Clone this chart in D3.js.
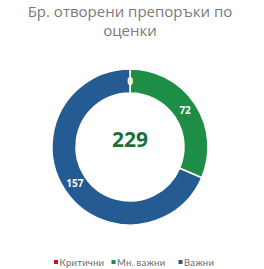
<!DOCTYPE html>
<html>
<head>
<meta charset="utf-8">
<script src="https://cdn.jsdelivr.net/npm/d3@7"></script>
<style>
  body { margin: 0; background: #fff; }
  svg { display: block; font-family: "Open Sans", "DejaVu Sans", sans-serif; }
</style>
</head>
<body>
<div class="chart"></div>
<script>
// data
const categories = ["Критични", "Мн. важни", "Важни"];
const values = [0, 72, 157];
const colors = ["#c0161c", "#1e8e46", "#245b93"];
const titleLines = ["Бр. отворени препоръки по", "оценки"];

const SIZE = {X: 264, Y: 269};
const CENTER = {X: 130, Y: 147};
const R = {OUTER: 78, INNER: 54};

const svg = d3.select(".chart").append("svg")
    .attr("width", SIZE.X)
    .attr("height", SIZE.Y);

// title
svg.selectAll(".title")
    .data(titleLines)
    .enter().append("text")
    .attr("class", "title")
    .attr("x", 130)
    .attr("y", (d, i) => 17 + i * 19)
    .attr("text-anchor", "middle")
    .attr("fill", "#7a7a7a")
    .attr("font-size", 15)
    .text(d => d);

// donut
const pie = d3.pie().sort(null).value(d => d.value);
const arc = d3.arc().innerRadius(R.INNER).outerRadius(R.OUTER);
const labelArc = d3.arc().innerRadius(66).outerRadius(66);

const data = categories.map((c, i) => ({name: c, value: values[i], color: colors[i]}));
const arcs = pie(data);

const graph = svg.append("g")
    .attr("transform", `translate(${CENTER.X}, ${CENTER.Y})`);

graph.selectAll(".slice")
    .data(arcs)
    .enter().append("path")
    .attr("class", "slice")
    .attr("d", arc)
    .attr("fill", d => d.data.color)
    .attr("stroke", "#fff")
    .attr("stroke-width", 1.5);

graph.selectAll(".lbl")
    .data(arcs)
    .enter().append("text")
    .attr("class", "lbl")
    .attr("transform", d => `translate(${labelArc.centroid(d)})`)
    .attr("text-anchor", "middle")
    .attr("dy", "0.35em")
    .attr("fill", "#fff")
    .attr("font-weight", "bold")
    .attr("font-size", 10)
    .text(d => d.data.value);

// total in the middle
graph.append("text")
    .attr("y", -7)
    .attr("dy", "0.35em")
    .attr("text-anchor", "middle")
    .attr("fill", "#1b6f3b")
    .attr("font-weight", "bold")
    .attr("font-size", 21)
    .text(d3.sum(values));

// legend
const legendX = [56, 113.5, 180.5];
const legend = svg.selectAll(".legend")
    .data(data)
    .enter().append("g")
    .attr("class", "legend")
    .attr("transform", (d, i) => `translate(${legendX[i]}, 262)`);

legend.append("rect")
    .attr("x", -2)
    .attr("y", -2)
    .attr("width", 4)
    .attr("height", 4)
    .attr("fill", d => d.color);

legend.append("text")
    .attr("x", 3.5)
    .attr("y", 3.5)
    .attr("fill", "#6b6b6b")
    .attr("font-family", "Lato, 'Open Sans', sans-serif")
    .attr("font-size", 9.5)
    .attr("letter-spacing", 0.2)
    .text(d => d.name);
</script>
</body>
</html>
